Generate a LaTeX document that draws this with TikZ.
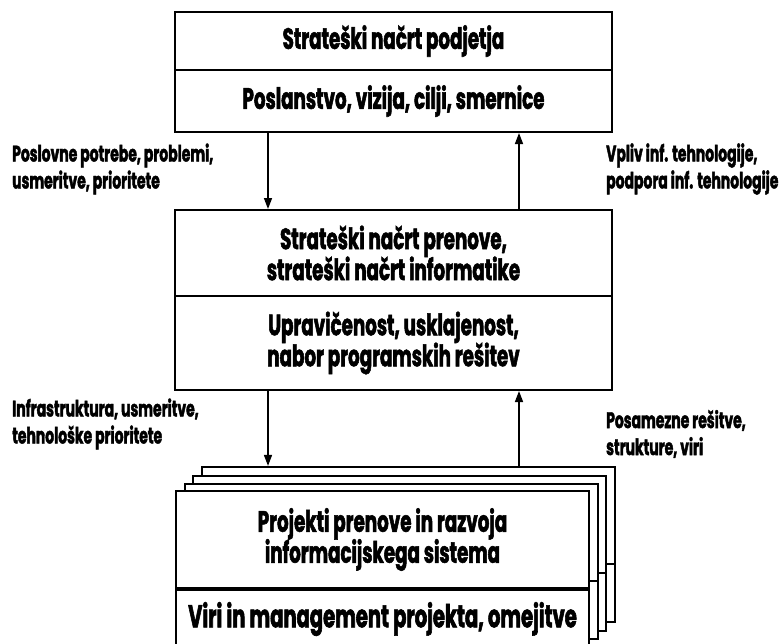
\documentclass[tikz,border=0pt]{standalone}
\usepackage{fontspec}
\usetikzlibrary{arrows.meta}
\newfontfamily\diagfont[FakeStretch=0.62, FakeBold=1.8]{Poppins}
\begin{document}
\begin{tikzpicture}[x=1pt,y=-1pt,
  sect/.style={draw, line width=2pt, fill=white, inner sep=0pt, align=center,
    font=\diagfont\bfseries\fontsize{29.5}{28}\selectfont},
  head/.style={sect},
  wide/.style={sect, font=\diagfont\bfseries\fontsize{31.5}{28}\selectfont},
  lbl/.style={anchor=west, align=left, inner sep=0pt,
    font=\diagfont\bfseries\fontsize{22.5}{27}\selectfont},
  flow/.style={line width=1.5pt, -{Triangle[length=11pt,width=8pt]}}]
\useasboundingbox (0,0) rectangle (782,643);

% upper block: company strategic plan
\node[head, minimum width=437pt, minimum height=58pt] (tA) at (393.5,41) {Strateški načrt podjetja};
\node[sect, minimum width=437pt, minimum height=62pt] (tB) at (393.5,101) {Poslanstvo, vizija, cilji, smernice};

% middle block: renewal and IT strategic plan
\node[head, minimum width=437pt, minimum height=86pt] (mA) at (393.5,253) {Strateški načrt prenove,\\[-1.5pt]strateški načrt informatike};
\node[sect, minimum width=437pt, minimum height=94pt] (mB) at (393.5,343) {Upravičenost, usklajenost,\\[-1.5pt]nabor programskih rešitev};

% stacked project sheets, drawn from the back to the front
\foreach \i in {3,2,1}{
  \node[sect, minimum width=413pt, minimum height=97pt] (s\i A) at (382.5+8.5*\i,541.5-8.7*\i) {};
  \node[sect, minimum width=413pt, minimum height=58pt] (s\i B) at (382.5+8.5*\i,619-8.7*\i) {};
}
\node[head, minimum width=413pt, minimum height=97pt] (fA) at (382.5,539.5) {Projekti prenove in razvoja\\[-1.5pt]informacijskega sistema};
\node[wide, minimum width=413pt, minimum height=58pt] (fB) at (382.5,619) {Viri in management projekta, omejitve};

% columns of the connectors
\coordinate (down) at (268,0);
\coordinate (up) at (519,0);

\draw[flow] (tB.south -| down) -- (mA.north -| down);
\draw[flow] (mA.north -| up) -- (tB.south -| up);
\draw[flow] (mB.south -| down) -- (s3A.north -| down);
\draw[flow] (s3A.north -| up) -- (mB.south -| up);

% connector labels
\node[lbl] (l1) at (12,169) {Poslovne potrebe, problemi,\\usmeritve, prioritete};
\node[lbl] (r1) at (606,169) {Vpliv inf. tehnologije,\\podpora inf. tehnologije};
\node[lbl] (l2) at (12,424) {Infrastruktura, usmeritve,\\tehnološke prioritete};
\node[lbl] (r2) at (606,434) {Posamezne rešitve,\\strukture, viri};
\end{tikzpicture}
\end{document}
